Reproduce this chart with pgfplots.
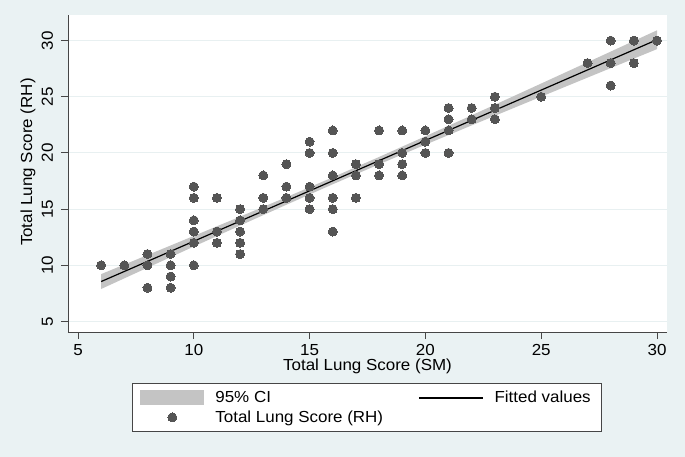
\documentclass[border=0pt]{standalone}
\usepackage{fontspec}
\setmainfont[FakeStretch=1.06]{Liberation Sans}
\usepackage{pgfplots}
\pgfplotsset{compat=1.18}
\definecolor{bgc}{RGB}{234,242,243}
\definecolor{dotc}{RGB}{85,85,85}
\definecolor{cic}{RGB}{196,196,196}
\definecolor{axc}{RGB}{70,70,70}
\definecolor{gridc}{RGB}{232,240,241}
\begin{document}
\fontsize{16}{19}\selectfont
\begin{tikzpicture}[font=\fontsize{16}{19}\selectfont]
\fill[bgc] (-68pt,-125pt) rectangle (617pt,332pt);
\begin{axis}[
  at={(0pt,0pt)}, anchor=south west,
  scale only axis, width=599pt, height=317pt,
  xmin=4.568, xmax=30.432, ymin=4.06, ymax=32.28,
  axis x line*=bottom, axis y line*=left,
  axis line style={axc, line width=0.9pt, -},
  xtick={5,10,15,20,25,30}, ytick={5,10,15,20,25,30},
  tick align=outside, major tick length=7pt,
  tick style={axc, line width=0.9pt},
  ymajorgrids, grid style={gridc, line width=1pt},
  axis background/.style={fill=white},
  /pgf/number format/assume math mode=true,
  yticklabel style={xshift=-8pt, rotate=90, anchor=base},
  xlabel={Total Lung Score (SM)},
  ylabel={Total Lung Score (RH)},
  xlabel style={at={(axis description cs:0.5,0)}, anchor=base, yshift=-38.7pt},
  ylabel style={at={(axis description cs:-0.0668,0.536)}, anchor=center, rotate=0},
  legend columns=2,
  legend cell align=left,
  legend style={at={(0.1068,-0.1609)}, anchor=north west, draw=axc, line width=0.8pt,
    fill=white, inner xsep=8pt, inner ysep=7pt, column sep=11pt, row sep=5pt,
    nodes={inner sep=0pt}},
]
% 95% CI band (upper 6->30, lower 30->6)
\addplot[fill=cic, draw=none,
  legend image code/.code={\fill[cic] (0pt,-7.5pt) rectangle (64pt,7.5pt);}]
  coordinates {
  (6,9.213) (8,10.910) (10,12.613) (12,14.329) (14,16.065) (16,17.833) (18,19.642)
  (20,21.485) (22,23.353) (24,25.235) (26,27.125) (28,29.020) (30,30.918)
  (30,29.242) (28,27.552) (26,25.859) (24,24.161) (22,22.455) (20,20.735) (18,18.990)
  (16,17.211) (14,15.391) (12,13.539) (10,11.667) (8,9.782) (6,7.891)
  } -- cycle;
\addlegendentry{\makebox[192pt][l]{95\% CI}}
% Fitted values
\addplot[black, line width=1.2pt, no marks,
  legend image code/.code={\draw[black, line width=1.2pt] (0pt,0pt) -- (64pt,0pt);}]
  coordinates {
  (6,8.552) (8,10.346) (10,12.140) (12,13.934) (14,15.728) (16,17.522) (18,19.316)
  (20,21.110) (22,22.904) (24,24.698) (26,26.492) (28,28.286) (30,30.080)
  };
\addlegendentry{\makebox[99pt][l]{Fitted values}}
% Scatter
\addplot[only marks, mark=*, mark size=4.5pt, mark options={fill=dotc, draw=dotc, line width=0pt},
  legend image code/.code={\draw[only marks, mark repeat=2, mark phase=2] plot coordinates {(0pt,0pt) (32pt,0pt) (64pt,0pt)};}]
  coordinates {
  (6,10) (7,10)
  (8,11) (8,10) (8,8)
  (9,11) (9,10) (9,9) (9,8)
  (10,17) (10,16) (10,14) (10,13) (10,12) (10,10)
  (11,16) (11,13) (11,12)
  (12,15) (12,14) (12,13) (12,12) (12,11)
  (13,18) (13,16) (13,15)
  (14,19) (14,17) (14,16)
  (15,21) (15,20) (15,17) (15,16) (15,15)
  (16,22) (16,20) (16,18) (16,16) (16,15) (16,13)
  (17,19) (17,18) (17,16)
  (18,22) (18,19) (18,18)
  (19,22) (19,20) (19,19) (19,18)
  (20,22) (20,21) (20,20)
  (21,24) (21,23) (21,22) (21,20)
  (22,24) (22,23)
  (23,25) (23,24) (23,23)
  (25,25) (27,28)
  (28,30) (28,28) (28,26)
  (29,30) (29,28)
  (30,30)
  };
\addlegendentry{Total Lung Score (RH)}
\end{axis}
\pgfresetboundingbox
\useasboundingbox (-68pt,-125pt) rectangle (617pt,332pt);
\end{tikzpicture}
\end{document}
